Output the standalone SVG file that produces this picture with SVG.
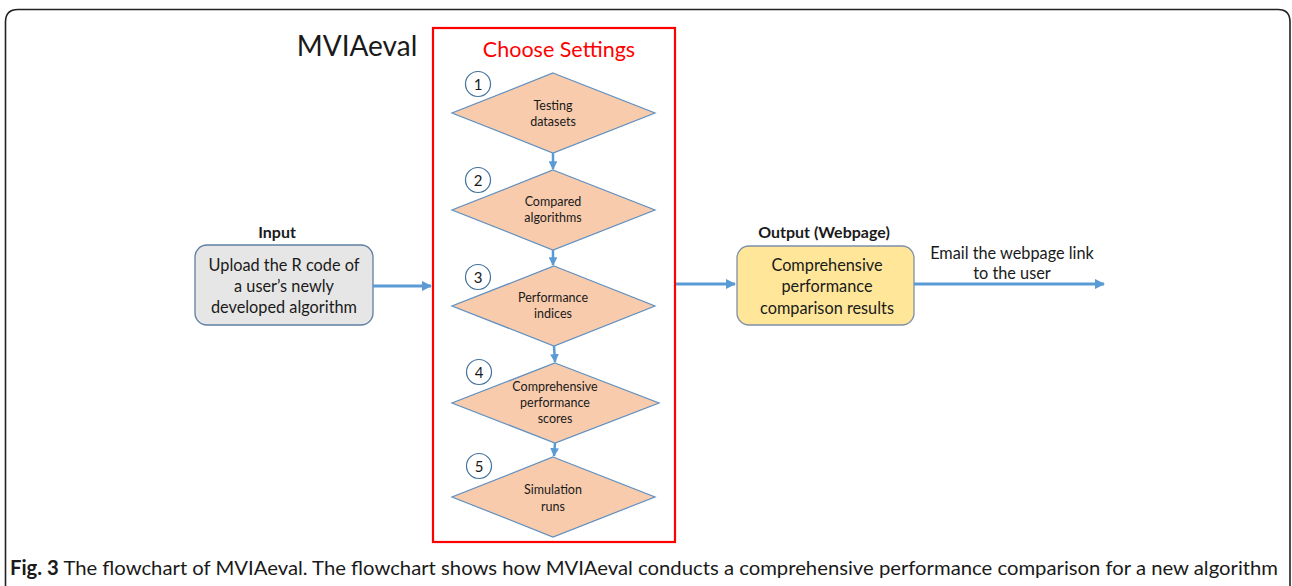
<svg xmlns="http://www.w3.org/2000/svg" width="1292" height="586" viewBox="0 0 1292 586">
  <style>
    text { font-family: "Lato", "Liberation Sans", sans-serif; fill: #1a1a1a; }
    .lbl { font-size: 16.3px; text-anchor: middle; }
    .dia-t { font-size: 12.5px; text-anchor: middle; }
    .head { font-size: 16px; font-weight: bold; text-anchor: middle; }
    .num { font-size: 15px; text-anchor: middle; }
    .diamond { fill: #f8cbad; stroke: #5f8fc0; stroke-width: 1.2; }
    .badge { fill: #ffffff; stroke: #41719c; stroke-width: 1.2; }
    .flow { stroke: #5b9bd5; stroke-width: 3; fill: none; }
    .step { stroke: #5b9bd5; stroke-width: 2.5; fill: none; }
  </style>
  <defs>
    <marker id="head" viewBox="0 0 10 10" refX="9" refY="5" markerWidth="3.5" markerHeight="3.5" orient="auto" markerUnits="strokeWidth">
      <path d="M0,0 L10,5 L0,10 z" fill="#5b9bd5"/>
    </marker>
  </defs>

  <rect width="1292" height="586" fill="#ffffff"/>
  <!-- figure frame, open at the bottom -->
  <path d="M5.5,586 V22 Q5.5,9.5 18,9.5 H1278 Q1290,9.5 1290,22 V586" fill="none" stroke="#222222" stroke-width="1.6"/>

  <text x="357" y="56" font-size="28" text-anchor="middle">MVIAeval</text>

  <!-- settings panel -->
  <g id="settings">
    <rect x="433" y="28" width="242" height="514" fill="none" stroke="#ff0000" stroke-width="2.2"/>
    <text x="559" y="57" font-size="21.5" text-anchor="middle" style="fill:#ff0000">Choose Settings</text>
  </g>

  <g id="step1">
    <polygon class="diamond" points="553,73 655,113 553,153 452,113"/>
    <circle class="badge" cx="478" cy="84" r="12.5"/>
    <text class="num" x="478" y="89.5">1</text>
    <text class="dia-t" x="553" y="110">Testing</text>
    <text class="dia-t" x="553" y="126">datasets</text>
  </g>
  <g id="step2">
    <polygon class="diamond" points="553,170 655,210 553,250 452,210"/>
    <circle class="badge" cx="478" cy="180" r="12.5"/>
    <text class="num" x="478" y="185.5">2</text>
    <text class="dia-t" x="553" y="206">Compared</text>
    <text class="dia-t" x="553" y="222">algorithms</text>
  </g>
  <g id="step3">
    <polygon class="diamond" points="554,266 655,306 554,346 452,306"/>
    <circle class="badge" cx="478" cy="277" r="12.5"/>
    <text class="num" x="478" y="282.5">3</text>
    <text class="dia-t" x="553" y="302">Performance</text>
    <text class="dia-t" x="553" y="318">indices</text>
  </g>
  <g id="step4">
    <polygon class="diamond" points="555,363 659,403 555,443 452,403"/>
    <circle class="badge" cx="479" cy="372" r="12.5"/>
    <text class="num" x="479" y="377.5">4</text>
    <text class="dia-t" x="555" y="391">Comprehensive</text>
    <text class="dia-t" x="555" y="407">performance</text>
    <text class="dia-t" x="555" y="423">scores</text>
  </g>
  <g id="step5">
    <polygon class="diamond" points="553,457 655,497 553,537 452,497"/>
    <circle class="badge" cx="479" cy="466" r="12.5"/>
    <text class="num" x="479" y="471.5">5</text>
    <text class="dia-t" x="553" y="494">Simulation</text>
    <text class="dia-t" x="553" y="511">runs</text>
  </g>

  <g id="input">
    <text class="head" x="277" y="238">Input</text>
    <rect x="195" y="245" width="178" height="80" rx="12" fill="#e7e6e6" stroke="#5f7fa3" stroke-width="1.3"/>
    <text class="lbl" x="284" y="271">Upload the R code of</text>
    <text class="lbl" x="284" y="292">a user’s newly</text>
    <text class="lbl" x="284" y="313">developed algorithm</text>
  </g>

  <g id="output">
    <text class="head" x="824" y="238">Output (Webpage)</text>
    <rect x="737" y="246" width="177" height="79" rx="12" fill="#ffe699" stroke="#7f8fa8" stroke-width="1.3"/>
    <text class="lbl" x="827" y="271">Comprehensive</text>
    <text class="lbl" x="827" y="292">performance</text>
    <text class="lbl" x="827" y="314">comparison results</text>
  </g>

  <text class="lbl" x="1012" y="259">Email the webpage link</text>
  <text class="lbl" x="1012" y="279">to the user</text>

  <g id="connectors">
    <line class="flow" x1="373" y1="286" x2="431" y2="286" marker-end="url(#head)"/>
    <line class="flow" x1="676" y1="284" x2="735" y2="284" marker-end="url(#head)"/>
    <line class="flow" x1="914" y1="284" x2="1104" y2="284" marker-end="url(#head)"/>
    <line class="step" x1="553" y1="153" x2="553" y2="169" marker-end="url(#head)"/>
    <line class="step" x1="553" y1="250" x2="553" y2="265" marker-end="url(#head)"/>
    <line class="step" x1="554" y1="346" x2="555" y2="362" marker-end="url(#head)"/>
    <line class="step" x1="555" y1="443" x2="554" y2="456" marker-end="url(#head)"/>
  </g>

  <text x="10" y="575" font-size="20" textLength="1268" lengthAdjust="spacingAndGlyphs"><tspan font-weight="bold">Fig. 3</tspan> The flowchart of MVIAeval. The flowchart shows how MVIAeval conducts a comprehensive performance comparison for a new algorithm</text>
</svg>
